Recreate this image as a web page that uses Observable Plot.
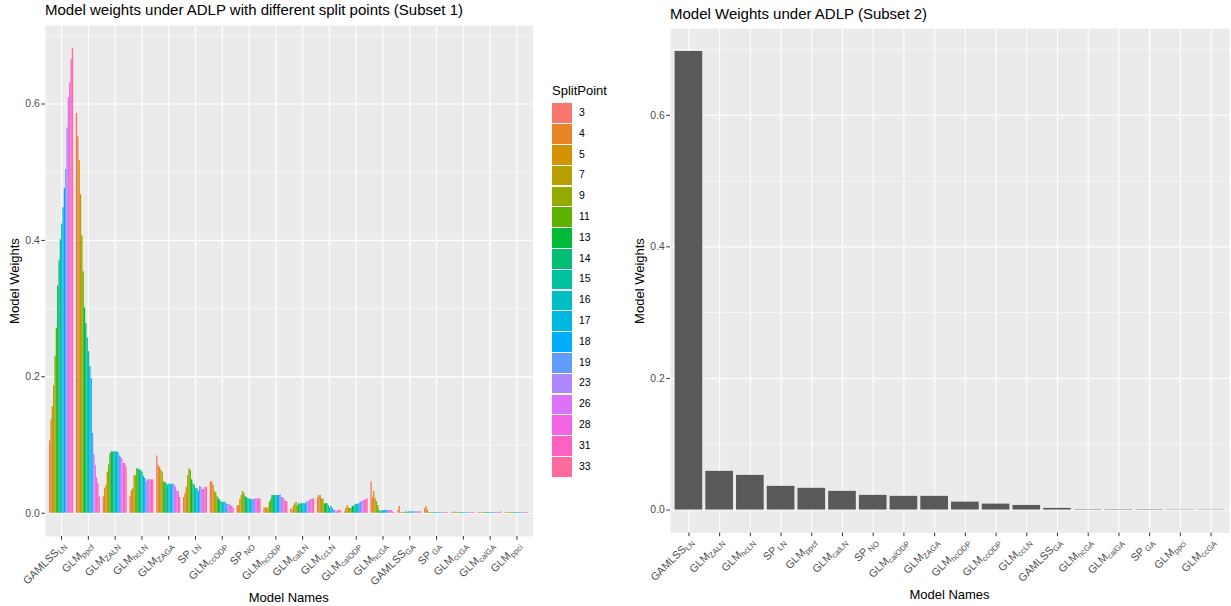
<!DOCTYPE html>
<html><head><meta charset="utf-8">
<script src="https://cdn.jsdelivr.net/npm/d3@7"></script>
<script src="https://cdn.jsdelivr.net/npm/@observablehq/plot@0.6"></script>
<style>
body{margin:0;background:#fff;font-family:"Liberation Sans",Arial,Helvetica,sans-serif;}
#root{position:relative;width:1231px;height:606px;overflow:hidden;background:#fff;}
.abs{position:absolute;white-space:nowrap;}
.title{font-size:15px;line-height:15px;color:#000;}
.axt{font-size:13px;line-height:13px;color:#000;}
.ytitle{transform:translate(-50%,-50%) rotate(-90deg);}
.xtitle{transform:translateX(-50%);}
.leg-sw{position:absolute;width:20px;}
.leg-lab{position:absolute;font-size:10.4px;line-height:10.4px;color:#000;}
svg text{fill:#4D4D4D;}
</style></head><body><div id="root"></div>
<script>
// ---------- data ----------
const splitPoints = [3, 4, 5, 7, 9, 11, 13, 14, 15, 16, 17, 18, 19, 23, 26, 28, 31, 33];

const subset1Models = ["GAMLSS_LN", "GLM_ppcf", "GLM_ZALN", "GLM_hcLN", "GLM_ZAGA", "SP_LN",
  "GLM_ccODP", "SP_NO", "GLM_hcODP", "GLM_calLN", "GLM_ccLN", "GLM_calODP", "GLM_hcGA",
  "GAMLSS_GA", "SP_GA", "GLM_ccGA", "GLM_calGA", "GLM_ppci"];

// Subset 1 weights, one array per model, ordered as splitPoints
const w_GAMLSS_LN = [0.106, 0.137, 0.156, 0.187, 0.230, 0.271, 0.333, 0.370, 0.401, 0.424, 0.448, 0.476, 0.504, 0.565, 0.609, 0.631, 0.665, 0.681];
const w_GLM_ppcf  = [0.586, 0.552, 0.517, 0.467, 0.407, 0.354, 0.301, 0.278, 0.257, 0.237, 0.215, 0.197, 0.117, 0.086, 0.070, 0.052, 0.043, 0.024];
const w_GLM_ZALN  = [0.024, 0.036, 0.041, 0.060, 0.071, 0.087, 0.090, 0.090, 0.090, 0.090, 0.090, 0.089, 0.084, 0.082, 0.079, 0.073, 0.073, 0.068];
const w_GLM_hcLN  = [0.024, 0.033, 0.036, 0.055, 0.055, 0.065, 0.065, 0.063, 0.063, 0.060, 0.054, 0.051, 0.046, 0.049, 0.049, 0.049, 0.049, 0.049];
const w_GLM_ZAGA  = [0.084, 0.070, 0.067, 0.063, 0.060, 0.046, 0.045, 0.043, 0.041, 0.043, 0.042, 0.042, 0.043, 0.041, 0.038, 0.032, 0.032, 0.023];
const w_SP_LN     = [0.023, 0.029, 0.038, 0.055, 0.065, 0.063, 0.049, 0.043, 0.041, 0.036, 0.036, 0.032, 0.039, 0.038, 0.035, 0.035, 0.038, 0.038];
const w_GLM_ccODP = [0.046, 0.046, 0.041, 0.032, 0.030, 0.024, 0.021, 0.019, 0.016, 0.016, 0.016, 0.016, 0.013, 0.013, 0.013, 0.011, 0.010, 0.007];
const w_SP_NO     = [0.011, 0.011, 0.020, 0.026, 0.032, 0.029, 0.024, 0.023, 0.021, 0.021, 0.020, 0.020, 0.020, 0.021, 0.021, 0.021, 0.021, 0.021];
const w_GLM_hcODP = [0.008, 0.008, 0.007, 0.008, 0.016, 0.020, 0.026, 0.026, 0.026, 0.026, 0.026, 0.026, 0.027, 0.023, 0.023, 0.020, 0.017, 0.017];
const w_GLM_calLN = [0.007, 0.005, 0.011, 0.014, 0.016, 0.011, 0.014, 0.013, 0.014, 0.014, 0.014, 0.014, 0.017, 0.017, 0.019, 0.020, 0.021, 0.021];
const w_GLM_ccLN  = [0.023, 0.026, 0.026, 0.021, 0.021, 0.014, 0.014, 0.014, 0.011, 0.007, 0.010, 0.007, 0.004, 0.004, 0.002, 0.004, 0.004, 0.004];
const w_GLM_calODP= [0.002, 0.007, 0.011, 0.008, 0.007, 0.007, 0.010, 0.010, 0.013, 0.013, 0.013, 0.014, 0.016, 0.017, 0.019, 0.019, 0.020, 0.021];
const w_GLM_hcGA  = [0.046, 0.023, 0.032, 0.021, 0.017, 0.011, 0.004, 0.002, 0.004, 0.004, 0.004, 0.004, 0.004, 0.004, 0.004, 0.004, 0.002, 0.001];
const w_GAMLSS_GA = [0.004, 0.010, 0.001, 0.001, 0.001, 0.001, 0.002, 0.001, 0.002, 0.002, 0.002, 0.002, 0.002, 0.002, 0.002, 0.002, 0.002, 0.002];
const w_SP_GA     = [0.007, 0.010, 0.005, 0.001, 0.001, 0.001, 0.001, 0.001, 0.001, 0.001, 0.001, 0.001, 0.001, 0.001, 0.001, 0.001, 0.001, 0.001];
const w_GLM_ccGA  = [0.001, 0.001, 0.002, 0.001, 0.001, 0.001, 0.001, 0.001, 0.001, 0.001, 0.001, 0.001, 0.001, 0.001, 0.001, 0.001, 0.001, 0.001];
const w_GLM_calGA = [0.001, 0.001, 0.001, 0.001, 0.001, 0.001, 0.001, 0.001, 0.001, 0.001, 0.001, 0.001, 0.001, 0.001, 0.001, 0.001, 0.001, 0.002];
const w_GLM_ppci  = [0.001, 0.001, 0.001, 0.001, 0.001, 0.001, 0.001, 0.001, 0.001, 0.001, 0.001, 0.001, 0.001, 0.001, 0.001, 0.001, 0.001, 0.001];

const subset2Models = ["GAMLSS_LN", "GLM_ZALN", "GLM_hcLN", "SP_LN", "GLM_ppcf", "GLM_calLN", "SP_NO",
  "GLM_calODP", "GLM_ZAGA", "GLM_hcODP", "GLM_ccODP", "GLM_ccLN", "GAMLSS_GA", "GLM_hcGA",
  "GLM_calGA", "SP_GA", "GLM_ppci", "GLM_ccGA"];
const subset2Weights = [0.697, 0.0588, 0.0527, 0.036, 0.033, 0.0284, 0.0223, 0.0208, 0.0208,
  0.012, 0.009, 0.007, 0.0025, 0.0006, 0.0006, 0.0006, 0.0004, 0.0004];

const yMajor = [0, 0.2, 0.4, 0.6];
const yMinor = [0.1, 0.3, 0.5, 0.7];

// ---------- helpers ----------
function hclR(h, c, l) { // R's hcl() (polar LUV) -> hex
  const WX = 95.047, WY = 100.0, WZ = 108.883;
  const hr = h * Math.PI / 180;
  const U = c * Math.cos(hr), V = c * Math.sin(hr);
  const Y = WY * (l > 7.999592 ? Math.pow((l + 16) / 116, 3) : l / 903.3);
  const t = WX + WY + WZ, x = WX / t, y = WY / t;
  const uN = 2 * x / (6 * y - x + 1.5), vN = 4.5 * y / (6 * y - x + 1.5);
  const u = U / (13 * l) + uN, v = V / (13 * l) + vN;
  const X = 9.0 * Y * u / (4 * v);
  const Z = -X / 3 - 5 * Y + 3 * Y / v;
  const g = q => { q = Math.max(0, Math.min(1, q)); return q <= 0.0031308 ? 12.92 * q : 1.055 * Math.pow(q, 1 / 2.4) - 0.055; };
  const r = g((3.240479 * X - 1.537150 * Y - 0.498535 * Z) / WY);
  const gg = g((-0.969256 * X + 1.875992 * Y + 0.041556 * Z) / WY);
  const b = g((0.055648 * X - 0.204043 * Y + 1.057311 * Z) / WY);
  return d3.rgb(r * 255, gg * 255, b * 255).formatHex();
}
const splitColors = splitPoints.map((_, i) => hclR(15 + 360 * i / splitPoints.length, 100, 65));

function subscriptLabels(svg) {
  d3.select(svg).selectAll('g[aria-label="x-axis tick label"] text').each(function () {
    const full = this.textContent;
    const k = full.indexOf("_");
    if (k < 0) return;
    const main = full.slice(0, k), sub = full.slice(k + 1);
    const sel = d3.select(this);
    const tr = sel.attr("transform") || "";
    sel.attr("transform", "translate(2.5,1.5) " + tr);
    sel.attr("font-size", "10.8px");
    sel.text(null);
    sel.append("tspan").text(main);
    sel.append("tspan").attr("font-size", "7.9px").attr("dy", "0.28em")
      .text((main === "SP" ? "\u2009" : "") + sub);
  });
}

const fontFam = '"Liberation Sans", Arial, Helvetica, sans-serif';
const root = document.getElementById("root");
function place(node, left, top) {
  const d = document.createElement("div");
  d.className = "abs"; d.style.left = left + "px"; d.style.top = top + "px";
  d.appendChild(node); root.appendChild(d); return d;
}
function textDiv(txt, cls, left, top) {
  const d = document.createElement("div");
  d.className = "abs " + cls; d.style.left = left + "px"; d.style.top = top + "px";
  d.textContent = txt; root.appendChild(d); return d;
}

// ---------- left chart (Subset 1, dodged) ----------
const subset1Weights = [w_GAMLSS_LN, w_GLM_ppcf, w_GLM_ZALN, w_GLM_hcLN, w_GLM_ZAGA, w_SP_LN,
  w_GLM_ccODP, w_SP_NO, w_GLM_hcODP, w_GLM_calLN, w_GLM_ccLN, w_GLM_calODP, w_GLM_hcGA,
  w_GAMLSS_GA, w_SP_GA, w_GLM_ccGA, w_GLM_calGA, w_GLM_ppci];
const nS = splitPoints.length, dodgeW = 0.9 / nS;
const rows1 = [];
subset1Models.forEach((m, i) => splitPoints.forEach((s, j) => {
  const x1 = (i + 1) - 0.45 + j * dodgeW;
  rows1.push({model: m, split: s, value: subset1Weights[i][j], x1, x2: x1 + dodgeW});
}));
const idx1 = d3.range(1, subset1Models.length + 1);

const left = Plot.plot({
  width: 540, height: 606,
  marginLeft: 45, marginRight: 7.5, marginTop: 25, marginBottom: 70,
  x: {domain: [0.4, subset1Models.length + 0.6]},
  y: {domain: [-0.0341, 0.7151]},
  color: {type: "ordinal", domain: splitPoints, range: splitColors},
  style: {fontFamily: fontFam, fontSize: "10.4px", color: "#333333", background: "transparent", overflow: "visible"},
  marks: [
    Plot.frame({fill: "#EBEBEB", stroke: "none"}),
    Plot.ruleY(yMinor, {stroke: "white", strokeWidth: 0.55}),
    Plot.ruleY(yMajor, {stroke: "white", strokeWidth: 1.1}),
    Plot.ruleX(idx1, {stroke: "white", strokeWidth: 1.1}),
    Plot.rect(rows1, {x1: "x1", x2: "x2", y1: 0, y2: "value", fill: "split"}),
    Plot.axisY({ticks: yMajor, tickFormat: d3.format(".1f"), tickSize: 3.7, tickPadding: 2, label: null}),
    Plot.axisX({ticks: idx1, tickFormat: i => subset1Models[i - 1], tickRotate: -45, tickSize: 3.7, tickPadding: 2, label: null})
  ]
});
subscriptLabels(left);
place(left, 0, 0);

// ---------- right chart (Subset 2) ----------
const rows2 = subset2Models.map((m, i) => ({model: m, value: subset2Weights[i]}));
const right = Plot.plot({
  width: 611, height: 606,
  marginLeft: 50, marginRight: 2, marginTop: 28, marginBottom: 73.5,
  x: {type: "band", domain: subset2Models, paddingInner: 0.1, paddingOuter: 0.15, round: false},
  y: {domain: [-0.0349, 0.7319]},
  style: {fontFamily: fontFam, fontSize: "10.4px", color: "#333333", background: "transparent", overflow: "visible"},
  marks: [
    Plot.frame({fill: "#EBEBEB", stroke: "none"}),
    Plot.ruleY(yMinor, {stroke: "white", strokeWidth: 0.55}),
    Plot.ruleY(yMajor, {stroke: "white", strokeWidth: 1.1}),
    Plot.ruleX(subset2Models, {x: d => d, stroke: "white", strokeWidth: 1.1}),
    Plot.barY(rows2, {x: "model", y: "value", fill: "#595959", inset: 0}),
    Plot.axisY({ticks: yMajor, tickFormat: d3.format(".1f"), tickSize: 3.7, tickPadding: 2, label: null}),
    Plot.axisX({tickRotate: -45, tickSize: 3.7, tickPadding: 2, label: null})
  ]
});
subscriptLabels(right);
place(right, 620, 0);

// ---------- titles ----------
textDiv("Model weights under ADLP with different split points (Subset 1)", "title", 45, 2.3);
textDiv("Model Weights under ADLP (Subset 2)", "title", 670, 5.6);
textDiv("Model Names", "axt xtitle", 288.75, 591);
textDiv("Model Names", "axt xtitle", 949.5, 588);
textDiv("Model Weights", "axt ytitle", 13.5, 280.5);
textDiv("Model Weights", "axt ytitle", 638.5, 280.5);

// ---------- legend ----------
textDiv("SplitPoint", "axt", 552, 83.5);
const keyH = 20.8, keyTop = 103.3;
splitPoints.forEach((s, k) => {
  const sw = document.createElement("div");
  sw.className = "leg-sw";
  sw.style.left = "552px"; sw.style.top = (keyTop + k * keyH) + "px";
  sw.style.height = (keyH - 1) + "px"; sw.style.background = splitColors[k];
  root.appendChild(sw);
  const lb = document.createElement("div");
  lb.className = "leg-lab";
  lb.style.left = "579px"; lb.style.top = (keyTop + k * keyH + keyH / 2 - 5.7) + "px";
  lb.textContent = String(s);
  root.appendChild(lb);
});
</script>
</body></html>
